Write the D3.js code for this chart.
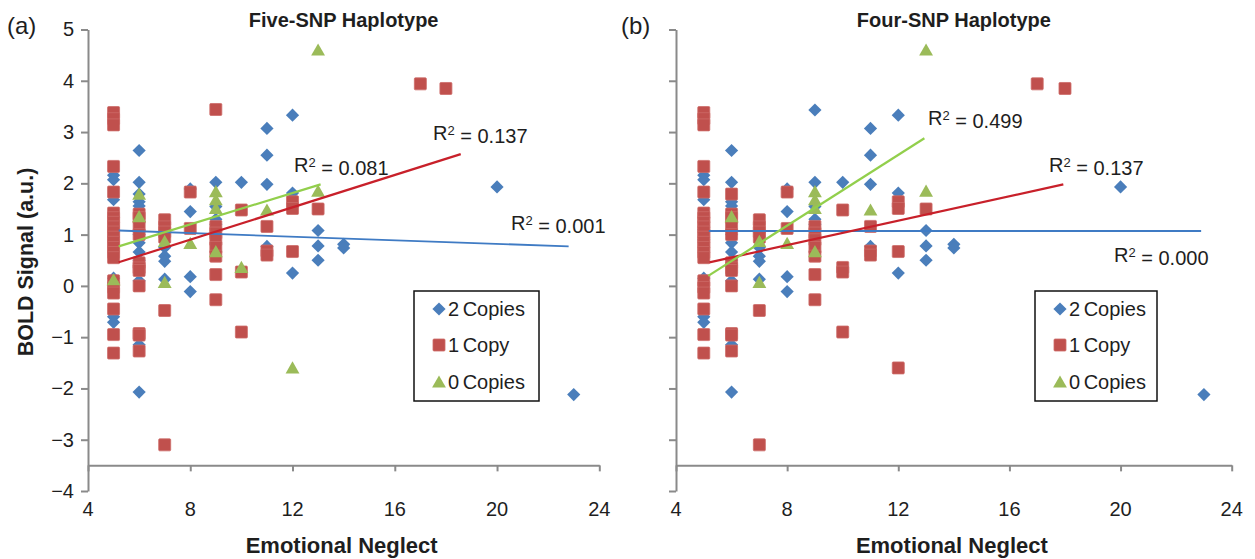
<!DOCTYPE html>
<html><head><meta charset="utf-8">
<script src="https://cdn.jsdelivr.net/npm/d3@7"></script>
<style>
html,body{margin:0;padding:0;background:#fff;}
text{font-family:"Liberation Sans",Arial,Helvetica,sans-serif;fill:#1e1e1e;}
</style></head>
<body><svg id="c" width="1255" height="559"></svg>
<script>
// ---------- DATA ----------
const xTicks = [4, 8, 12, 16, 20, 24];
const yTicks = [-4, -3, -2, -1, 0, 1, 2, 3, 4, 5];
const yTickLabels = ["\u22124", "\u22123", "\u22122", "\u22121", "0", "1", "2", "3", "4", "5"];
const seriesNames = ["2 Copies", "1 Copy", "0 Copies"];
const panelTitles = ["Five-SNP Haplotype", "Four-SNP Haplotype"];
const panelLetters = ["(a)", "(b)"];

// Panel (a) Five-SNP
const twoCopiesA = [
  [5,2.16],[5,2.07],[5,1.68],[5,1.1],[5,0.9],[5,0.15],[5,-0.6],[5,-0.71],
  [6,2.64],[6,2.02],[6,1.79],[6,1.64],[6,1.56],[6,1.0],[6,0.84],[6,0.66],[6,0.5],[6,0.1],[6,-1.15],[6,-2.07],
  [7,1.05],[7,0.75],[7,0.58],[7,0.48],[7,0.13],
  [8,1.89],[8,1.45],[8,0.18],[8,-0.11],
  [9,2.02],[9,1.55],[9,1.3],[9,1.2],
  [10,2.02],
  [11,3.07],[11,2.55],[11,1.98],[11,0.77],
  [12,3.33],[12,1.81],[12,0.25],
  [13,1.08],[13,0.78],[13,0.5],
  [14,0.81],[14,0.74],
  [20,1.93],[23,-2.12]
];
const oneCopyA = [
  [5,3.38],[5,3.26],[5,3.14],[5,2.33],[5,1.83],[5,1.42],[5,1.33],[5,1.24],[5,1.15],[5,1.05],[5,0.95],[5,0.85],[5,0.75],[5,0.65],[5,0.55],[5,0.1],[5,-0.03],[5,-0.14],[5,-0.45],[5,-0.95],[5,-1.31],
  [6,1.4],[6,1.33],[6,1.16],[6,1.0],[6,0.45],[6,0.35],[6,0.3],[6,0.0],[6,-0.93],[6,-0.96],[6,-1.27],
  [7,1.29],[7,1.15],[7,1.05],[7,0.95],[7,-0.48],[7,-3.1],
  [8,1.83],[8,1.12],
  [9,3.44],[9,1.16],[9,1.03],[9,0.9],[9,0.75],[9,0.58],[9,0.22],[9,-0.27],
  [10,1.48],[10,0.27],[10,-0.9],
  [11,1.16],[11,0.68],[11,0.6],
  [12,1.64],[12,1.51],[12,0.67],
  [13,1.5],
  [17,3.94],[18,3.85]
];
const zeroCopiesA = [
  [5,0.12],[6,1.79],[6,1.35],[7,0.87],[7,0.07],[8,0.83],[9,1.84],[9,1.68],[9,1.51],[9,0.67],
  [10,0.36],[11,1.48],[12,-1.6],[13,1.85],[13,4.6]
];
const trendTwoA = [[5.2,1.08],[22.8,0.77]];
const trendOneA = [[5.2,0.46],[18.58,2.57]];
const trendZeroA = [[5.2,0.77],[13.1,1.98]];
const r2ValuesA = ["0.001", "0.137", "0.081"];

// Panel (b) Four-SNP
const twoCopiesB = [
  [5,2.16],[5,2.07],[5,1.68],[5,1.1],[5,0.9],[5,0.15],[5,-0.6],[5,-0.71],
  [6,2.64],[6,2.02],[6,1.64],[6,1.56],[6,1.0],[6,0.84],[6,0.66],[6,0.5],[6,0.1],[6,-1.15],[6,-2.07],
  [7,1.05],[7,0.75],[7,0.58],[7,0.48],[7,0.13],
  [8,1.89],[8,1.45],[8,0.18],[8,-0.11],
  [9,3.43],[9,2.02],[9,1.55],[9,1.3],[9,1.2],
  [10,2.02],
  [11,3.07],[11,2.55],[11,1.98],[11,0.77],
  [12,3.33],[12,1.81],[12,0.25],
  [13,1.08],[13,0.78],[13,0.5],
  [14,0.81],[14,0.74],
  [20,1.93],[23,-2.12]
];
const oneCopyB = [
  [5,3.38],[5,3.26],[5,3.14],[5,2.33],[5,1.83],[5,1.42],[5,1.33],[5,1.24],[5,1.15],[5,1.05],[5,0.95],[5,0.85],[5,0.75],[5,0.65],[5,0.55],[5,0.1],[5,-0.03],[5,-0.14],[5,-0.45],[5,-0.95],[5,-1.31],
  [6,1.79],[6,1.4],[6,1.33],[6,1.16],[6,1.0],[6,0.45],[6,0.35],[6,0.3],[6,0.0],[6,-0.93],[6,-0.96],[6,-1.27],
  [7,1.29],[7,1.15],[7,1.05],[7,0.95],[7,-0.48],[7,-3.1],
  [8,1.83],[8,1.12],
  [9,1.16],[9,1.03],[9,0.9],[9,0.75],[9,0.58],[9,0.22],[9,-0.27],
  [10,1.48],[10,0.36],[10,0.27],[10,-0.9],
  [11,1.16],[11,0.68],[11,0.6],
  [12,1.64],[12,1.51],[12,0.67],[12,-1.6],
  [13,1.5],
  [17,3.94],[18,3.85]
];
const zeroCopiesB = [
  [6,1.35],[7,0.87],[7,0.07],[8,0.83],[9,1.84],[9,1.68],[9,1.51],[9,0.67],
  [11,1.48],[13,1.85],[13,4.6]
];
const trendTwoB = [[5.18,1.07],[22.9,1.07]];
const trendOneB = [[5.2,0.46],[17.94,1.98]];
const trendZeroB = [[5.16,0.195],[12.94,2.88]];
const r2ValuesB = ["0.000", "0.137", "0.499"];

// ---------- STYLE / LAYOUT ----------
const colors = ["#4a7ebb", "#c0504d", "#9bbb59"];
const lineColors = ["#3f7bc4", "#c8202a", "#92cf4c"];
const axisColor = "#8a8a8a";
const FONT = '"Liberation Sans",Arial,Helvetica,sans-serif';
const svg = d3.select("#c");

const panels = [
  {x0:88, x1:599.3, series:[twoCopiesA, oneCopyA, zeroCopiesA], trends:[trendTwoA, trendOneA, trendZeroA],
   r2:r2ValuesA, r2pos:[[511,230],[433,140],[294,172]], legend:[414,291,125,110], yLabels:true, letterX:7},
  {x0:676, x1:1231.7, series:[twoCopiesB, oneCopyB, zeroCopiesB], trends:[trendTwoB, trendOneB, trendZeroB],
   r2:r2ValuesB, r2pos:[[1114,262],[1049,172],[928,125]], legend:[1035,291,122,110], yLabels:false, letterX:621}
];

const y = d3.scaleLinear().domain([-4, 5]).range([491, 29.5]);

function marker(g, type, cx, cy, color, s) {
  if (type === 0) {
    const r = s * 0.55;
    g.append("path").attr("d", `M${cx},${cy-r}L${cx+r},${cy}L${cx},${cy+r}L${cx-r},${cy}Z`)
      .attr("fill", color);
  } else if (type === 1) {
    const h = s * 0.5;
    g.append("rect").attr("x", cx-h).attr("y", cy-h).attr("width", 2*h).attr("height", 2*h)
      .attr("rx", 1).attr("fill", color).attr("stroke", "#cd6b68").attr("stroke-width", 0.8);
  } else {
    const h = s * 0.55;
    g.append("path").attr("d", `M${cx},${cy-h}L${cx+h*1.05},${cy+h*0.85}L${cx-h*1.05},${cy+h*0.85}Z`)
      .attr("fill", color);
  }
}

panels.forEach((p, pi) => {
  const x = d3.scaleLinear().domain([4, 24]).range([p.x0, p.x1]);
  const g = svg.append("g");

  // y axis
  const ya = d3.axisLeft(y).tickValues(yTicks).tickSizeInner(7).tickSizeOuter(0)
    .tickFormat((d, i) => p.yLabels ? yTickLabels[i] : "").tickPadding(7);
  const yg = g.append("g").attr("transform", `translate(${p.x0},0)`).call(ya);
  yg.select(".domain").attr("stroke", axisColor).attr("stroke-width", 2);
  yg.selectAll(".tick line").attr("stroke", axisColor).attr("stroke-width", 2);
  yg.selectAll(".tick text").style("font-size", "20px").attr("fill", "#1e1e1e")
    .style("font-family", FONT);

  // x axis at y = -3.5
  const xa = d3.axisBottom(x).tickValues(xTicks).tickSizeInner(6).tickSizeOuter(0).tickFormat("");
  const xg = g.append("g").attr("transform", `translate(0,${y(-3.5)})`).call(xa);
  xg.select(".domain").attr("stroke", axisColor).attr("stroke-width", 2);
  xg.selectAll(".tick line").attr("stroke", axisColor).attr("stroke-width", 2);
  g.selectAll(".xlab").data(xTicks).enter().append("text")
    .attr("x", d => x(d)).attr("y", 516).attr("text-anchor", "middle")
    .style("font-size", "20px").text(d => d);

  // titles
  g.append("text").attr("x", (p.x0 + p.x1) / 2).attr("y", 27).attr("text-anchor", "middle")
    .style("font-size", "20px").style("font-weight", "bold").text(panelTitles[pi]);
  g.append("text").attr("x", p.letterX).attr("y", 34).style("font-size", "24px").text(panelLetters[pi]);
  g.append("text").attr("x", (p.x0 + p.x1) / 2 - 2).attr("y", 553).attr("text-anchor", "middle")
    .style("font-size", "22px").style("font-weight", "bold").text("Emotional Neglect");

  // points
  const mg = g.append("g");
  p.series.forEach((data, si) => {
    data.forEach(d => marker(mg, si, x(d[0]), y(d[1]), colors[si], 12));
  });

  // trendlines
  p.trends.forEach((t, ti) => {
    g.append("line").attr("x1", x(t[0][0])).attr("y1", y(t[0][1]))
      .attr("x2", x(t[1][0])).attr("y2", y(t[1][1]))
      .attr("stroke", lineColors[ti]).attr("stroke-width", ti === 0 ? 1.8 : 2.2);
  });

  // R2 labels
  p.r2.forEach((v, li) => {
    const t = g.append("text").attr("x", p.r2pos[li][0]).attr("y", p.r2pos[li][1])
      .style("font-size", "20px");
    t.append("tspan").text("R");
    t.append("tspan").attr("dy", "-0.42em").style("font-size", "13px").text("2");
    t.append("tspan").attr("dy", "0.42em").text(" = " + v);
  });

  // legend
  const L = p.legend;
  g.append("rect").attr("x", L[0]).attr("y", L[1]).attr("width", L[2]).attr("height", L[3])
    .attr("fill", "#fff").attr("stroke", "#111").attr("stroke-width", 1.5);
  const ly = [309, 345, 382];
  const lty = [316, 352, 389];
  seriesNames.forEach((n, i) => {
    marker(g, i, L[0] + 25, ly[i], colors[i], 12);
    g.append("text").attr("x", L[0] + 34).attr("y", lty[i]).style("font-size", "20px")
      .style("word-spacing", "-2px").text(n);
  });
});

// y axis title
svg.append("text").attr("transform", "translate(33,262) rotate(-90)").attr("text-anchor", "middle")
  .style("font-size", "21.5px").style("font-weight", "bold").text("BOLD Signal (a.u.)");
</script>
</body></html>
